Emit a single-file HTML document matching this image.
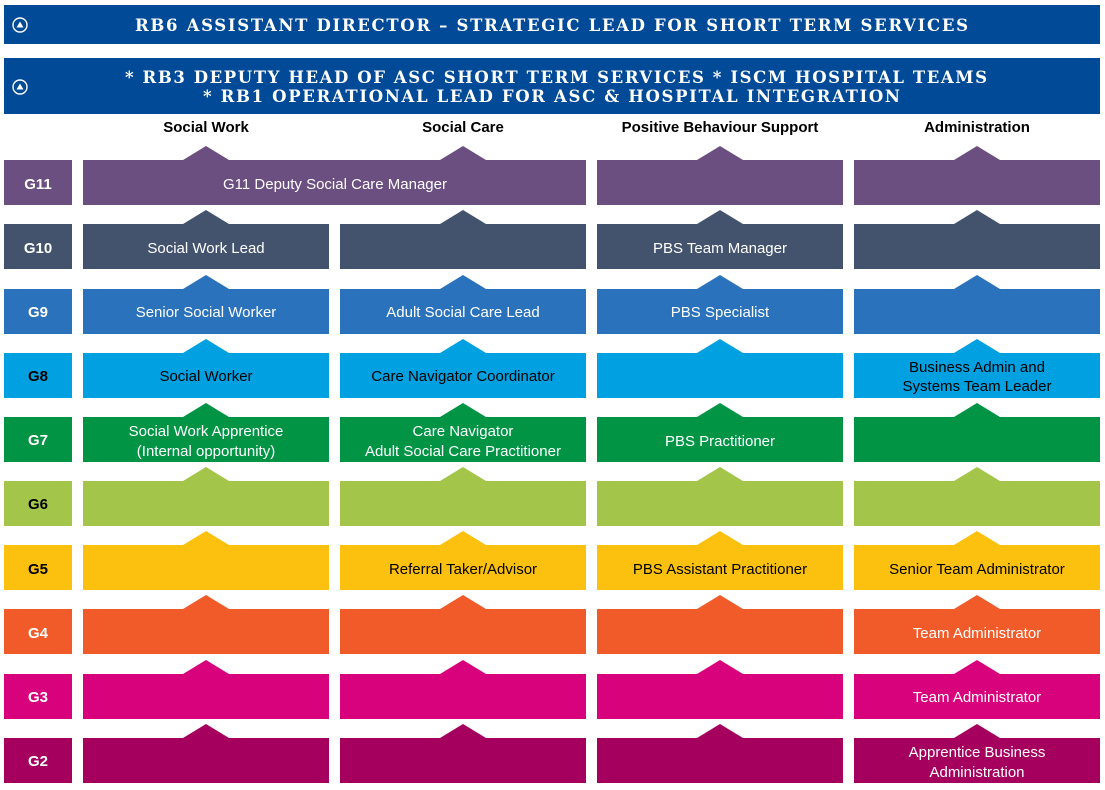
<!DOCTYPE html>
<html><head><meta charset="utf-8"><style>
html,body{margin:0;padding:0;background:#fff;}
svg{display:block;font-family:"Liberation Sans",sans-serif;}
.h{font-family:"DejaVu Serif","Liberation Serif",serif;font-weight:bold;fill:#fff;font-size:16.5px;}
.ch{font-weight:bold;font-size:15px;fill:#000;}
.g{font-weight:bold;font-size:15px;}
.t{font-size:15px;}
</style></head><body>
<svg width="1105" height="790" viewBox="0 0 1105 790">
<rect x="4" y="5" width="1096" height="39" fill="#004a98"/>
<circle cx="20" cy="25" r="7" fill="none" stroke="#fff" stroke-width="1.4"/><polygon points="16.5,27.5 23.5,27.5 20,21.5" fill="#fff"/>
<text class="h" x="135" y="31" textLength="833" lengthAdjust="spacing">RB6 ASSISTANT DIRECTOR – STRATEGIC LEAD FOR SHORT TERM SERVICES</text>
<rect x="4" y="58" width="1096" height="56" fill="#004a98"/>
<circle cx="20" cy="87" r="7" fill="none" stroke="#fff" stroke-width="1.4"/><polygon points="16.5,89.5 23.5,89.5 20,83.5" fill="#fff"/>
<text class="h" x="125" y="83" textLength="862" lengthAdjust="spacing">* RB3 DEPUTY HEAD OF ASC SHORT TERM SERVICES * ISCM HOSPITAL TEAMS</text>
<text class="h" x="203" y="102" textLength="697" lengthAdjust="spacing">* RB1 OPERATIONAL LEAD FOR ASC &amp; HOSPITAL INTEGRATION</text>
<g text-anchor="middle">
<text class="ch" x="206" y="132">Social Work</text>
<text class="ch" x="463" y="132">Social Care</text>
<text class="ch" x="720" y="132">Positive Behaviour Support</text>
<text class="ch" x="977" y="132">Administration</text>

<g fill="#6b4f80">
<rect x="4" y="160" width="68" height="45"/>
<rect x="83" y="160" width="503" height="45"/>
<rect x="597" y="160" width="246" height="45"/><rect x="854" y="160" width="246" height="45"/>
<polygon points="183,160 206,146 229,160"/><polygon points="440,160 463,146 486,160"/><polygon points="697,160 720,146 743,160"/><polygon points="954,160 977,146 1000,160"/>
</g>
<text class="g" x="38" y="189" fill="#fff">G11</text>
<text class="t" x="335" y="189" fill="#fff">G11 Deputy Social Care Manager</text>

<g fill="#44536d">
<rect x="4" y="224" width="68" height="45"/>
<rect x="83" y="224" width="246" height="45"/><rect x="340" y="224" width="246" height="45"/><rect x="597" y="224" width="246" height="45"/><rect x="854" y="224" width="246" height="45"/>
<polygon points="183,224 206,210 229,224"/><polygon points="440,224 463,210 486,224"/><polygon points="697,224 720,210 743,224"/><polygon points="954,224 977,210 1000,224"/>
</g>
<text class="g" x="38" y="253" fill="#fff">G10</text>
<text class="t" x="206" y="253" fill="#fff">Social Work Lead</text>
<text class="t" x="720" y="253" fill="#fff">PBS Team Manager</text>

<g fill="#2a72bc">
<rect x="4" y="289" width="68" height="45"/>
<rect x="83" y="289" width="246" height="45"/><rect x="340" y="289" width="246" height="45"/><rect x="597" y="289" width="246" height="45"/><rect x="854" y="289" width="246" height="45"/>
<polygon points="183,289 206,275 229,289"/><polygon points="440,289 463,275 486,289"/><polygon points="697,289 720,275 743,289"/><polygon points="954,289 977,275 1000,289"/>
</g>
<text class="g" x="38" y="317" fill="#fff">G9</text>
<text class="t" x="206" y="317" fill="#fff">Senior Social Worker</text>
<text class="t" x="463" y="317" fill="#fff">Adult Social Care Lead</text>
<text class="t" x="720" y="317" fill="#fff">PBS Specialist</text>

<g fill="#00a0e1">
<rect x="4" y="353" width="68" height="45"/>
<rect x="83" y="353" width="246" height="45"/><rect x="340" y="353" width="246" height="45"/><rect x="597" y="353" width="246" height="45"/><rect x="854" y="353" width="246" height="45"/>
<polygon points="183,353 206,339 229,353"/><polygon points="440,353 463,339 486,353"/><polygon points="697,353 720,339 743,353"/><polygon points="954,353 977,339 1000,353"/>
</g>
<text class="g" x="38" y="381" fill="#000">G8</text>
<text class="t" x="206" y="381" fill="#000">Social Worker</text>
<text class="t" x="463" y="381" fill="#000">Care Navigator Coordinator</text>
<text class="t" x="977" y="372" fill="#000">Business Admin and</text>
<text class="t" x="977" y="391" fill="#000">Systems Team Leader</text>

<g fill="#009444">
<rect x="4" y="417" width="68" height="45"/>
<rect x="83" y="417" width="246" height="45"/><rect x="340" y="417" width="246" height="45"/><rect x="597" y="417" width="246" height="45"/><rect x="854" y="417" width="246" height="45"/>
<polygon points="183,417 206,403 229,417"/><polygon points="440,417 463,403 486,417"/><polygon points="697,417 720,403 743,417"/><polygon points="954,417 977,403 1000,417"/>
</g>
<text class="g" x="38" y="445" fill="#fff">G7</text>
<text class="t" x="206" y="436" fill="#fff">Social Work Apprentice</text>
<text class="t" x="206" y="456" fill="#fff">(Internal opportunity)</text>
<text class="t" x="463" y="436" fill="#fff">Care Navigator</text>
<text class="t" x="463" y="456" fill="#fff">Adult Social Care Practitioner</text>
<text class="t" x="720" y="446" fill="#fff">PBS Practitioner</text>

<g fill="#a3c64a">
<rect x="4" y="481" width="68" height="45"/>
<rect x="83" y="481" width="246" height="45"/><rect x="340" y="481" width="246" height="45"/><rect x="597" y="481" width="246" height="45"/><rect x="854" y="481" width="246" height="45"/>
<polygon points="183,481 206,467 229,481"/><polygon points="440,481 463,467 486,481"/><polygon points="697,481 720,467 743,481"/><polygon points="954,481 977,467 1000,481"/>
</g>
<text class="g" x="38" y="509" fill="#000">G6</text>

<g fill="#fcc10f">
<rect x="4" y="545" width="68" height="45"/>
<rect x="83" y="545" width="246" height="45"/><rect x="340" y="545" width="246" height="45"/><rect x="597" y="545" width="246" height="45"/><rect x="854" y="545" width="246" height="45"/>
<polygon points="183,545 206,531 229,545"/><polygon points="440,545 463,531 486,545"/><polygon points="697,545 720,531 743,545"/><polygon points="954,545 977,531 1000,545"/>
</g>
<text class="g" x="38" y="574" fill="#000">G5</text>
<text class="t" x="463" y="574" fill="#000">Referral Taker/Advisor</text>
<text class="t" x="720" y="574" fill="#000">PBS Assistant Practitioner</text>
<text class="t" x="977" y="574" fill="#000">Senior Team Administrator</text>

<g fill="#f15a29">
<rect x="4" y="609" width="68" height="45"/>
<rect x="83" y="609" width="246" height="45"/><rect x="340" y="609" width="246" height="45"/><rect x="597" y="609" width="246" height="45"/><rect x="854" y="609" width="246" height="45"/>
<polygon points="183,609 206,595 229,609"/><polygon points="440,609 463,595 486,609"/><polygon points="697,609 720,595 743,609"/><polygon points="954,609 977,595 1000,609"/>
</g>
<text class="g" x="38" y="638" fill="#fff">G4</text>
<text class="t" x="977" y="638" fill="#fff">Team Administrator</text>

<g fill="#d9027d">
<rect x="4" y="674" width="68" height="45"/>
<rect x="83" y="674" width="246" height="45"/><rect x="340" y="674" width="246" height="45"/><rect x="597" y="674" width="246" height="45"/><rect x="854" y="674" width="246" height="45"/>
<polygon points="183,674 206,660 229,674"/><polygon points="440,674 463,660 486,674"/><polygon points="697,674 720,660 743,674"/><polygon points="954,674 977,660 1000,674"/>
</g>
<text class="g" x="38" y="702" fill="#fff">G3</text>
<text class="t" x="977" y="702" fill="#fff">Team Administrator</text>

<g fill="#a5005e">
<rect x="4" y="738" width="68" height="45"/>
<rect x="83" y="738" width="246" height="45"/><rect x="340" y="738" width="246" height="45"/><rect x="597" y="738" width="246" height="45"/><rect x="854" y="738" width="246" height="45"/>
<polygon points="183,738 206,724 229,738"/><polygon points="440,738 463,724 486,738"/><polygon points="697,738 720,724 743,738"/><polygon points="954,738 977,724 1000,738"/>
</g>
<text class="g" x="38" y="766" fill="#fff">G2</text>
<text class="t" x="977" y="757" fill="#fff">Apprentice Business</text>
<text class="t" x="977" y="777" fill="#fff">Administration</text>
</g>
</svg>
</body></html>
